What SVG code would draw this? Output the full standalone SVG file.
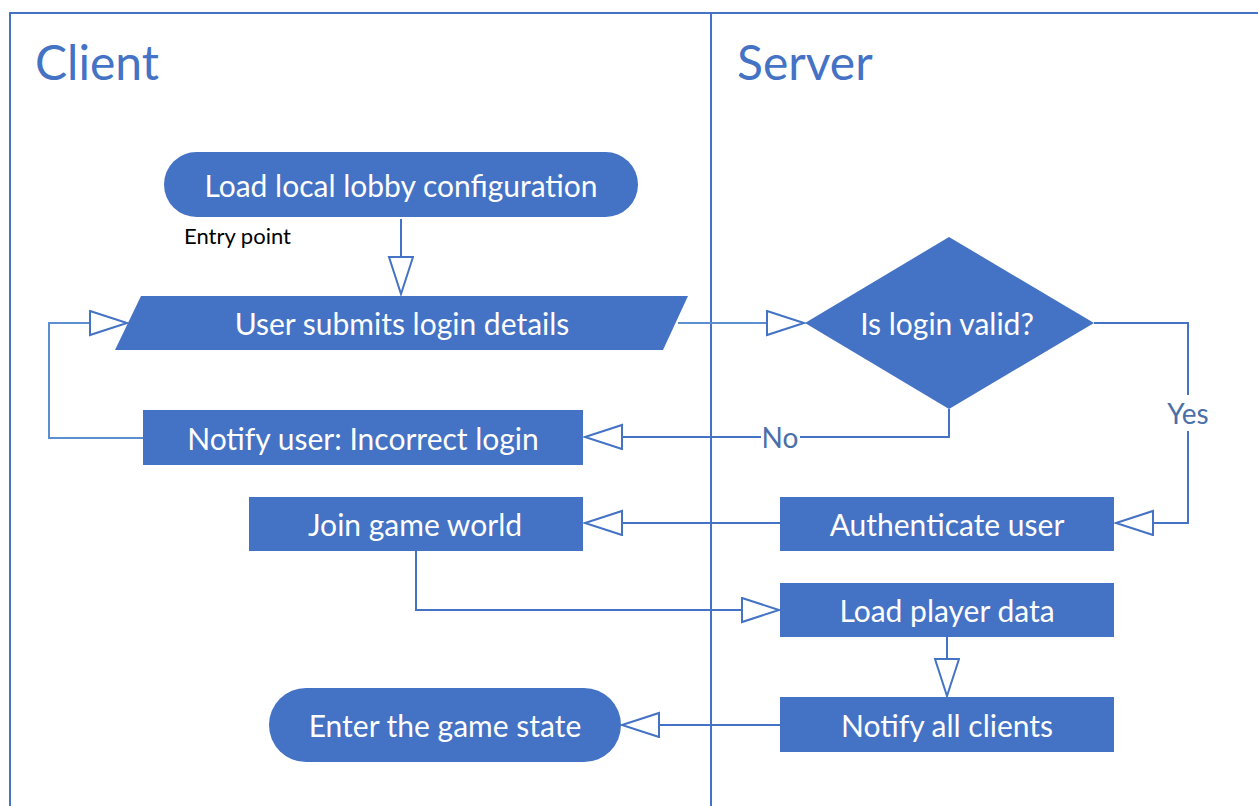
<svg xmlns="http://www.w3.org/2000/svg" width="1258" height="806" viewBox="0 0 1258 806">
  <style>
    .lane { fill: none; stroke: #4472C4; stroke-width: 2; }
    .lane-title { font-family: Lato, "Liberation Sans", sans-serif; font-size: 48px; fill: #4472C4; }
    .shape { fill: #4472C4; }
    .label { font-family: Lato, "Liberation Sans", sans-serif; font-size: 30px; fill: #ffffff; text-anchor: middle; dominant-baseline: central; }
    .note { font-family: Lato, "Liberation Sans", sans-serif; font-size: 22px; fill: #000000; }
    .conn { fill: none; stroke: #4472C4; stroke-width: 2; marker-end: url(#open-arrow); }
    .conn-light { stroke: #5B8FD0; }
    .branch { font-family: Lato, "Liberation Sans", sans-serif; font-size: 28px; fill: #4A6FA8; text-anchor: middle; dominant-baseline: central; }
  </style>
  <defs>
    <marker id="open-arrow" markerUnits="userSpaceOnUse" markerWidth="42" markerHeight="30" refX="38" refY="13" orient="auto">
      <path d="M1,1 L38,13 L1,25 Z" fill="#ffffff" stroke="#4472C4" stroke-width="2" stroke-linejoin="miter"/>
    </marker>
  </defs>

  <rect width="1258" height="806" fill="#ffffff"/>

  <!-- swimlanes -->
  <g id="lanes">
    <path class="lane" d="M10,806 L10,13 L1258,13"/>
    <path class="lane" d="M711,13 L711,806"/>
    <text class="lane-title" x="35" y="80">Client</text>
    <text class="lane-title" x="737" y="80">Server</text>
  </g>

  <!-- connectors -->
  <g id="connectors">
    <path class="conn" d="M401,219 L401,294"/>
    <path class="conn conn-light" d="M678,323 L804,323"/>
    <path class="conn conn-light" d="M143,438 L49,438 L49,323 L127,323"/>
    <path class="conn" d="M949,409 L949,437 L585,437"/>
    <rect x="761" y="424" width="39" height="26" fill="#ffffff"/>
    <text class="branch" x="780" y="437">No</text>
    <path class="conn" d="M1094,323 L1188,323 L1188,523 L1116,523"/>
    <rect x="1164" y="395" width="48" height="36" fill="#ffffff"/>
    <text class="branch" x="1188" y="413">Yes</text>
    <path class="conn" d="M780,523 L585,523"/>
    <path class="conn" d="M416,551 L416,610 L779,610"/>
    <path class="conn" d="M947,637 L947,696"/>
    <path class="conn" d="M780,725 L622,725"/>
  </g>

  <g id="load-config">
    <rect class="shape" x="164" y="152" width="474" height="65" rx="32.5"/>
    <text class="label" x="401" y="185">Load local lobby configuration</text>
    <text class="note" x="184" y="244">Entry point</text>
  </g>

  <g id="submit-login">
    <polygon class="shape" points="141,296 688,296 663,350 115,350"/>
    <text class="label" x="402" y="323">User submits login details</text>
  </g>

  <g id="login-valid">
    <polygon class="shape" points="805,323 949,237 1094,323 949,409"/>
    <text class="label" x="947" y="323">Is login valid?</text>
  </g>

  <g id="notify-incorrect">
    <rect class="shape" x="143" y="410" width="440" height="55"/>
    <text class="label" x="363" y="438">Notify user: Incorrect login</text>
  </g>

  <g id="join-world">
    <rect class="shape" x="249" y="497" width="334" height="54"/>
    <text class="label" x="415" y="524">Join game world</text>
  </g>

  <g id="authenticate">
    <rect class="shape" x="780" y="497" width="334" height="54"/>
    <text class="label" x="947" y="524">Authenticate user</text>
  </g>

  <g id="load-player">
    <rect class="shape" x="780" y="583" width="334" height="54"/>
    <text class="label" x="947" y="610">Load player data</text>
  </g>

  <g id="notify-all">
    <rect class="shape" x="780" y="697" width="334" height="55"/>
    <text class="label" x="947" y="725">Notify all clients</text>
  </g>

  <g id="enter-game">
    <rect class="shape" x="269" y="688" width="352" height="74" rx="37"/>
    <text class="label" x="445" y="725">Enter the game state</text>
  </g>
</svg>
